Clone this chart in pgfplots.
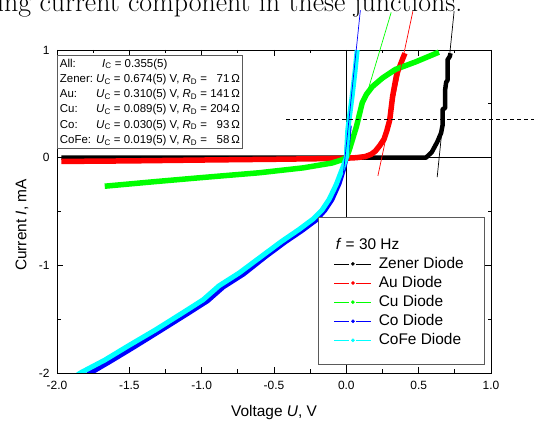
\documentclass[border=0pt]{standalone}
\usepackage{fontspec}
\setsansfont{Liberation Sans}
\usepackage{pgfplots}
\pgfplotsset{compat=1.18}
\definecolor{cRed}{RGB}{255,0,0}
\definecolor{cGreen}{RGB}{0,255,0}
\definecolor{cBlue}{RGB}{0,0,255}
\definecolor{cCyan}{RGB}{0,255,255}
\definecolor{boxgray}{RGB}{90,90,90}
\begin{document}
\begin{tikzpicture}
\useasboundingbox (0bp,0bp) rectangle (535bp,423bp);
\node[anchor=base west, inner sep=0pt, font=\fontsize{28}{32}\selectfont] at (-3bp,411bp) {ing current component in these junctions.};
\begin{axis}[
  at={(57bp,50bp)}, anchor=south west,
  scale only axis, width=434bp, height=323bp,
  xmin=-2, xmax=1, ymin=-2, ymax=1,
  xtick={-2,-1.5,-1,-0.5,0,0.5,1}, minor x tick num=1,
  ytick={-2,-1,0,1}, minor y tick num=1,
  tick align=inside, major tick length=6bp, minor tick length=3.5bp,
  axis line style={line width=0.9bp},
  every tick/.style={black, line width=0.7bp},
  /pgf/number format/assume math mode=true,
  tick label style={font=\sffamily\fontsize{12}{14}\selectfont},
  xticklabel style={/pgf/number format/.cd, fixed, fixed zerofill, precision=1, /tikz/yshift=-5bp},
  yticklabel style={xshift=-4bp},
  xlabel={Voltage \textit{U}, V},
  ylabel={Current \textit{I}, mA},
  label style={font=\sffamily\fontsize{15.5}{18}\selectfont},
  xlabel style={at={(axis description cs:0.5,-0.135)}, anchor=base},
  ylabel style={at={(axis description cs:-0.081,0.458)}, anchor=center},
  legend style={at={(axis description cs:0.638,0.423)}, anchor=north west,
    draw=none, fill=none,
    font=\sffamily\fontsize{15.5}{18}\selectfont,
    inner sep=0pt, row sep=2.6bp, column sep=6bp,
    nodes={inner sep=1bp, text height=11.5bp, text depth=3bp}},
  legend cell align=left,
  legend image code/.code={
    \draw[#1, line width=0.7bp] (0bp,0bp)--(15bp,0bp) (22bp,0bp)--(37bp,0bp);
    \fill[#1] (18.5bp,0bp) circle (1.6bp);},
  clip=true,
]
% zero lines
\addplot[black, line width=0.8bp, forget plot] coordinates {(0,-2) (0,1)};
\addplot[black, line width=0.8bp, forget plot] coordinates {(-2,0) (1,0)};
% Zener
\addplot[black, line width=4.5bp, line join=round, forget plot] coordinates {
(-1.97,0.0) (-1.0,0.0) (0.0,0.0) (0.3,0.0) (0.55,0.0) (0.59,0.05) (0.63,0.15) (0.655,0.23)
(0.665,0.30) (0.665,0.45) (0.683,0.46) (0.683,0.63) (0.69,0.70) (0.70,0.72) (0.70,0.91) (0.715,0.94) (0.72,0.97)};
% Au
\addplot[cRed, line width=5.5bp, line join=round, forget plot] coordinates {
(-1.97,-0.035) (-1.5,-0.03) (-1.0,-0.022) (-0.5,-0.015) (-0.2,-0.01) (0,-0.005) (0.07,0.0)
(0.13,0.01) (0.17,0.03) (0.20,0.06) (0.23,0.11) (0.26,0.17) (0.28,0.25) (0.30,0.35) (0.31,0.46)
(0.32,0.57) (0.335,0.68) (0.35,0.79) (0.37,0.85) (0.39,0.92) (0.405,0.97)};
% Cu
\addplot[cGreen, line width=5.5bp, line join=round, forget plot] coordinates {
(-1.67,-0.265) (-1.3,-0.22) (-1.0,-0.185) (-0.6,-0.14) (-0.3,-0.095) (-0.1,-0.05) (-0.03,-0.02)
(0.0,0.0) (0.02,0.07) (0.045,0.18) (0.07,0.29) (0.09,0.40) (0.11,0.51) (0.14,0.59) (0.18,0.66)
(0.25,0.74) (0.34,0.82) (0.48,0.89) (0.64,0.98)};
% Co
\addplot[cBlue, line width=5bp, line join=round, forget plot] coordinates {
(-1.80,-2.03) (-1.77,-2.0) (-1.63,-1.89) (-1.47,-1.76) (-1.29,-1.61) (-1.10,-1.45) (-0.96,-1.33)
(-0.85,-1.20) (-0.71,-1.08) (-0.56,-0.92) (-0.42,-0.78) (-0.31,-0.68) (-0.21,-0.58) (-0.15,-0.49)
(-0.10,-0.39) (-0.05,-0.24) (-0.02,-0.11) (0.0,0.0) (0.01,0.15) (0.02,0.3)};
% CoFe
\addplot[cCyan, line width=5bp, line join=round, forget plot] coordinates {
(-1.88,-2.04) (-1.84,-2.0) (-1.67,-1.88) (-1.51,-1.75) (-1.32,-1.60) (-1.13,-1.44) (-0.99,-1.32)
(-0.88,-1.19) (-0.74,-1.07) (-0.58,-0.91) (-0.45,-0.78) (-0.33,-0.67) (-0.23,-0.57) (-0.17,-0.49)
(-0.12,-0.39) (-0.07,-0.25) (-0.03,-0.11) (0.0,0.0) (0.01,0.26) (0.04,0.57) (0.06,0.8) (0.075,1.0)};
% legend frame
\filldraw[draw=boxgray, line width=0.8bp, fill=white] (axis cs:-0.193,-0.557) rectangle (axis cs:0.952,-1.922);
% legend
\addlegendimage{empty legend}
\addlegendentry{\hspace*{-43bp}\textit{f} = 30 Hz}
\addlegendimage{black}\addlegendentry{Zener Diode}
\addlegendimage{cRed}\addlegendentry{Au Diode}
\addlegendimage{cGreen}\addlegendentry{Cu Diode}
\addlegendimage{cBlue}\addlegendentry{Co Diode}
\addlegendimage{cCyan}\addlegendentry{CoFe Diode}
% info box
\node[draw=boxgray, line width=0.8bp, fill=white, anchor=north west, inner xsep=2.5bp, inner ysep=0.5bp,
  font=\sffamily\fontsize{11.5}{15.3}\selectfont] at (rel axis cs:0.0,0.983) {%
\begin{tabular}{@{}l@{\ }l@{\ }r@{\,}l@{}}
All: & \multicolumn{3}{l}{\textit{I}\textsubscript{C} = 0.355(5)}\\
Zener: & \textit{U}\textsubscript{C} = 0.674(5) V, \textit{R}\textsubscript{D} = & 71 & Ω\\
Au: & \textit{U}\textsubscript{C} = 0.310(5) V, \textit{R}\textsubscript{D} = & 141 & Ω\\
Cu: & \textit{U}\textsubscript{C} = 0.089(5) V, \textit{R}\textsubscript{D} = & 204 & Ω\\
Co: & \textit{U}\textsubscript{C} = 0.030(5) V, \textit{R}\textsubscript{D} = & 93 & Ω\\
CoFe: & \textit{U}\textsubscript{C} = 0.019(5) V, \textit{R}\textsubscript{D} = & 58 & Ω
\end{tabular}};
\end{axis}
\begin{axis}[
  at={(57bp,50bp)}, anchor=south west,
  scale only axis, width=434bp, height=323bp,
  xmin=-2, xmax=1, ymin=-2, ymax=1,
  hide axis, clip=false,
]
\addplot[black, line width=0.8bp, dash pattern=on 4bp off 3bp] coordinates {(-0.414,0.355) (1.297,0.355)};
\addplot[cBlue, line width=0.7bp] coordinates {(-0.02,-0.14) (0.097,1.37)};
\addplot[cGreen, line width=0.7bp] coordinates {(0.044,0.15) (0.31,1.35)};
\addplot[cRed, line width=0.7bp] coordinates {(0.218,-0.17) (0.46,1.36)};
\addplot[black, line width=0.7bp] coordinates {(0.628,-0.18) (0.745,1.36)};
\end{axis}
\end{tikzpicture}
\end{document}
